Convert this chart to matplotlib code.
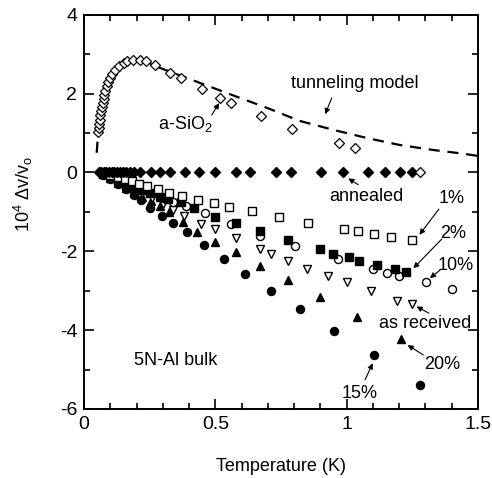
import matplotlib

matplotlib.use("Agg")
import matplotlib.pyplot as plt
from matplotlib.ticker import MultipleLocator

plt.rcParams["font.family"] = ["Liberation Sans", "DejaVu Sans"]
plt.rcParams["mathtext.fontset"] = "custom"
plt.rcParams["mathtext.rm"] = "Liberation Sans"
plt.rcParams["mathtext.it"] = "Liberation Sans"
plt.rcParams["axes.unicode_minus"] = False

# a-SiO2 reference (open diamonds)
sio2_t = [0.051, 0.055, 0.057, 0.060, 0.062, 0.065, 0.067, 0.070, 0.074, 0.077, 0.081,
          0.086, 0.091, 0.099, 0.108, 0.118, 0.133, 0.150, 0.165, 0.185, 0.211, 0.237,
          0.269, 0.327, 0.368, 0.448, 0.517, 0.558, 0.673, 0.791, 0.972, 1.032, 1.279]
sio2_v = [1.02, 1.14, 1.24, 1.34, 1.46, 1.56, 1.67, 1.77, 1.87, 1.97, 2.07,
          2.19, 2.29, 2.39, 2.49, 2.60, 2.69, 2.77, 2.83, 2.86, 2.86, 2.83,
          2.73, 2.53, 2.40, 2.13, 1.89, 1.76, 1.44, 1.11, 0.76, 0.62, 0.00]

# tunneling model curve
model_t = [0.048, 0.052, 0.060, 0.070, 0.080, 0.090, 0.100, 0.120, 0.150, 0.180, 0.210,
           0.250, 0.290, 0.350, 0.410, 0.470, 0.570, 0.700, 0.820, 0.950, 1.080, 1.200,
           1.330, 1.440, 1.500]
model_v = [0.50, 0.90, 1.30, 1.70, 2.00, 2.20, 2.38, 2.58, 2.75, 2.83, 2.84,
           2.77, 2.65, 2.50, 2.35, 2.20, 1.95, 1.63, 1.31, 1.08, 0.87, 0.70,
           0.57, 0.48, 0.42]

# annealed (filled diamonds)
ann_t = [0.057, 0.065, 0.075, 0.085, 0.095, 0.105, 0.115, 0.125, 0.135, 0.147, 0.160,
         0.175, 0.190, 0.213, 0.254, 0.289, 0.327, 0.384, 0.439, 0.499, 0.578, 0.630,
         0.729, 0.787, 0.901, 0.985, 1.082, 1.146, 1.203, 1.247]
ann_v = [0.0, 0.0, 0.0, 0.0, 0.0, 0.0, 0.0, 0.0, 0.0, 0.0, 0.0,
         0.0, 0.0, 0.0, 0.0, 0.0, 0.0, 0.0, 0.0, 0.0, 0.0, 0.0,
         0.0, 0.0, 0.0, 0.0, 0.0, 0.0, 0.0, 0.0]

# 1% (open squares)
p1_t = [0.070, 0.100, 0.130, 0.155, 0.181, 0.209, 0.241, 0.281, 0.325, 0.372, 0.435,
        0.494, 0.553, 0.638, 0.741, 0.854, 0.991, 1.042, 1.104, 1.170, 1.248]
p1_v = [-0.02, -0.06, -0.11, -0.16, -0.21, -0.28, -0.34, -0.42, -0.51, -0.59, -0.69,
        -0.78, -0.87, -0.98, -1.12, -1.27, -1.44, -1.48, -1.55, -1.64, -1.71]

# 2% (filled squares)
p2_t = [0.070, 0.100, 0.130, 0.160, 0.190, 0.220, 0.250, 0.290, 0.320, 0.370, 0.420,
        0.499, 0.579, 0.670, 0.775, 0.898, 0.949, 1.007, 1.048, 1.114, 1.184, 1.226]
p2_v = [-0.03, -0.10, -0.18, -0.27, -0.36, -0.45, -0.53, -0.63, -0.68, -0.75, -0.90,
        -1.12, -1.29, -1.48, -1.71, -1.95, -2.06, -2.15, -2.24, -2.35, -2.45, -2.53]

# 10% (open circles)
p10_t = [0.070, 0.100, 0.130, 0.160, 0.200, 0.250, 0.300, 0.340, 0.387, 0.462, 0.558,
         0.670, 0.803, 0.968, 1.101, 1.152, 1.199, 1.301, 1.400]
p10_v = [-0.03, -0.10, -0.18, -0.28, -0.38, -0.52, -0.64, -0.74, -0.84, -1.03, -1.30,
         -1.60, -1.86, -2.19, -2.45, -2.55, -2.62, -2.79, -2.96]

# as received (open down triangles)
rec_t = [0.070, 0.100, 0.130, 0.160, 0.190, 0.222, 0.260, 0.300, 0.338, 0.382, 0.446,
         0.499, 0.579, 0.670, 0.711, 0.778, 0.850, 0.930, 1.001, 1.093, 1.193, 1.247]
rec_v = [-0.04, -0.12, -0.22, -0.33, -0.43, -0.53, -0.65, -0.80, -0.95, -1.11, -1.31,
         -1.43, -1.66, -1.94, -2.07, -2.24, -2.45, -2.63, -2.79, -3.01, -3.25, -3.34]

# 20% (filled triangles)
p20_t = [0.070, 0.100, 0.130, 0.160, 0.190, 0.220, 0.255, 0.290, 0.325, 0.376, 0.430,
         0.499, 0.579, 0.670, 0.775, 0.898, 1.041, 1.206]
p20_v = [-0.05, -0.15, -0.27, -0.40, -0.52, -0.62, -0.72, -0.85, -1.01, -1.26, -1.51,
         -1.77, -2.02, -2.36, -2.74, -3.16, -3.66, -4.22]

# 15% (filled circles)
p15_t = [0.070, 0.100, 0.130, 0.160, 0.190, 0.217, 0.252, 0.296, 0.339, 0.393, 0.457,
         0.531, 0.613, 0.711, 0.822, 0.952, 1.104, 1.279]
p15_v = [-0.06, -0.17, -0.30, -0.43, -0.56, -0.70, -0.89, -1.11, -1.27, -1.51, -1.84,
         -2.20, -2.57, -3.00, -3.46, -4.01, -4.62, -5.40]

fig = plt.figure(figsize=(4.92, 4.78), dpi=100)
ax = fig.add_axes([0.171, 0.1444, 0.8005, 0.8246])

ax.plot(model_t, model_v, color="black", lw=1.6, ls=(0, (5, 3.5)), zorder=1)

ax.plot(p15_t, p15_v, "o", ms=5.8, color="black", ls="none")
ax.plot(p20_t, p20_v, "^", ms=6.3, color="black", ls="none")
ax.plot(rec_t, rec_v, "v", ms=6.3, mfc="white", mec="black", mew=1.0, ls="none")
ax.plot(p10_t, p10_v, "o", ms=5.8, mfc="white", mec="black", mew=1.0, ls="none")
ax.plot(p2_t, p2_v, "s", ms=5.8, color="black", ls="none")
ax.plot(p1_t, p1_v, "s", ms=5.8, mfc="white", mec="black", mew=1.0, ls="none")
ax.plot(ann_t, ann_v, "D", ms=4.7, color="black", ls="none")
ax.plot(sio2_t, sio2_v, "D", ms=4.7, mfc="white", mec="black", mew=0.9, ls="none")

ax.set_xlim(0, 1.5)
ax.set_ylim(-6, 4)
ax.xaxis.set_major_locator(MultipleLocator(0.5))
ax.xaxis.set_minor_locator(MultipleLocator(0.1))
ax.yaxis.set_major_locator(MultipleLocator(2))
ax.yaxis.set_minor_locator(MultipleLocator(1))
ax.set_xticks([0, 0.5, 1, 1.5], ["0", "0.5", "1", "1.5"])
ax.tick_params(which="both", direction="in", top=True, right=True, labelsize=14, width=1.2)
ax.tick_params(which="major", length=7, pad=5)
ax.tick_params(which="minor", length=4)
for s in ax.spines.values():
    s.set_linewidth(1.4)

ax.set_xlabel("Temperature (K)", fontsize=13, labelpad=18)
ax.set_ylabel(r"10$^4$ $\Delta$v/v$_{\rm o}$", fontsize=13)
ax.yaxis.set_label_coords(-0.125, 0.546)

arrow = dict(arrowstyle="-|>", color="black", lw=0.8, mutation_scale=8, shrinkA=0, shrinkB=0)
ax.text(1.03, 2.27, "tunneling model", fontsize=13, ha="center", va="center")
ax.annotate("", xy=(0.918, 1.48), xytext=(0.943, 1.89), arrowprops=arrow)
ax.text(0.28, 1.23, r"a-SiO$_2$", fontsize=13, ha="left", va="center")
ax.annotate("", xy=(0.514, 1.76), xytext=(0.486, 1.46), arrowprops=arrow)
ax.text(1.076, -0.60, "annealed", fontsize=13, ha="center", va="center")
ax.annotate("", xy=(1.006, -0.15), xytext=(1.044, -0.31), arrowprops=arrow)
ax.text(1.40, -0.67, "1%", fontsize=13, ha="center", va="center")
ax.annotate("", xy=(1.277, -1.58), xytext=(1.351, -0.93), arrowprops=arrow)
ax.text(1.407, -1.56, "2%", fontsize=13, ha="center", va="center")
ax.annotate("", xy=(1.254, -2.43), xytext=(1.362, -1.69), arrowprops=arrow)
ax.text(1.414, -2.35, "10%", fontsize=13, ha="center", va="center")
ax.annotate("", xy=(1.317, -2.68), xytext=(1.355, -2.48), arrowprops=arrow)
ax.text(1.30, -3.83, "as received", fontsize=13, ha="center", va="center")
ax.annotate("", xy=(1.266, -3.40), xytext=(1.313, -3.57), arrowprops=arrow)
ax.text(1.365, -4.88, "20%", fontsize=13, ha="center", va="center")
ax.annotate("", xy=(1.232, -4.38), xytext=(1.292, -4.63), arrowprops=arrow)
ax.text(1.051, -5.60, "15%", fontsize=13, ha="center", va="center")
ax.annotate("", xy=(1.099, -4.84), xytext=(1.070, -5.26), arrowprops=arrow)
ax.text(0.35, -4.76, "5N-Al bulk", fontsize=13, ha="center", va="center")

fig.savefig("out.png", dpi=100)
